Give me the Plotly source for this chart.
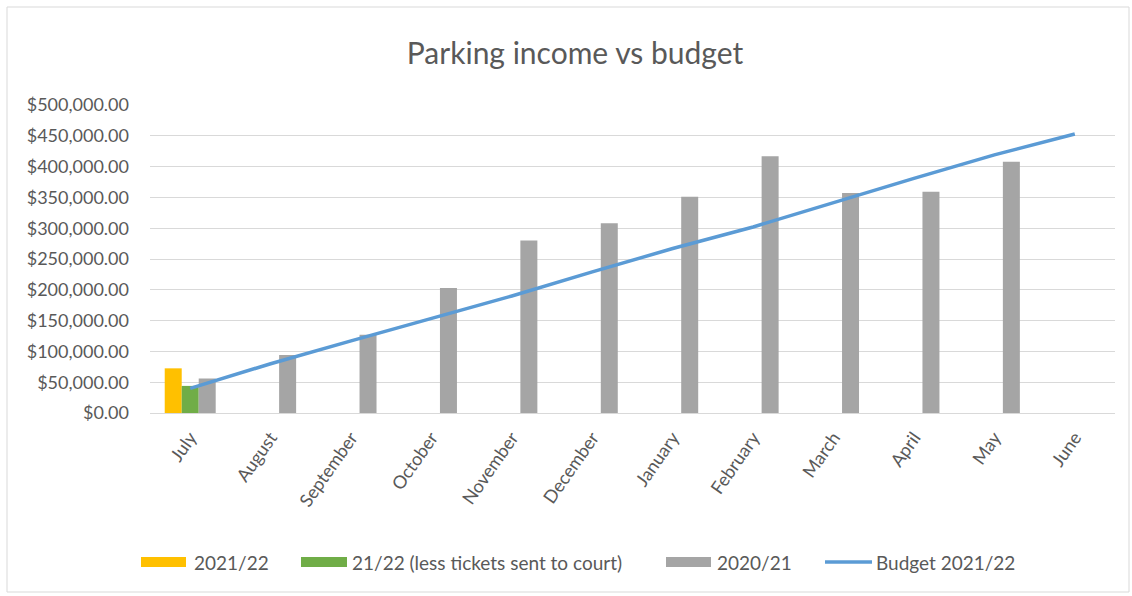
import plotly.graph_objects as go

# Monthly categories for the 2021/22 financial year
months = ["July", "August", "September", "October", "November", "December",
          "January", "February", "March", "April", "May", "June"]

# Parking income by series
income_2021_22 = [72500, None, None, None, None, None, None, None, None, None, None, None]
income_less_court = [44000, None, None, None, None, None, None, None, None, None, None, None]
income_2020_21 = [56000, 94000, 127000, 203000, 280000, 308000,
                  351000, 417000, 357000, 359000, 408000, None]

# Cumulative budget line
budget_2021_22 = [40000, 80000, 117000, 153000, 190000, 229000,
                  267000, 302000, 342000, 381000, 419000, 453000]

series_names = ["2021/22", "21/22 (less tickets sent to court)", "2020/21", "Budget 2021/22"]
series_colors = ["#FFC000", "#70AD47", "#A5A5A5", "#5B9BD5"]

W, H = 1132, 596
ML, MR, MT, MB = 150, 17, 105, 183
PW, PH = W - ML - MR, H - MT - MB
FONT = "Lato"
TXT = "#595959"


def px_x(px):
    return (px - ML) / PW


def px_y(py):
    return (H - MB - py) / PH


fig = go.Figure()
for vals, name, color in zip([income_2021_22, income_less_court, income_2020_21],
                             series_names[:3], series_colors[:3]):
    fig.add_trace(go.Bar(x=months, y=vals, name=name, marker_color=color,
                         marker_line_width=0))

fig.add_trace(go.Scatter(x=months, y=budget_2021_22, name=series_names[3],
                         mode="lines", line=dict(color=series_colors[3], width=3.5)))

# Outer chart border
shapes = [dict(type="rect", xref="paper", yref="paper",
               x0=px_x(7), x1=px_x(1129), y0=px_y(592), y1=px_y(7),
               line=dict(color="#d9d9d9", width=1), layer="below")]

# Legend row along the bottom
annotations = []
legend_items = [  # swatch start, swatch end, text start
    (141, 186, 192),
    (301, 347, 350),
    (666, 711, 715),
    (825, 872, 874),
]
ly = 562
for i, (s0, s1, t0) in enumerate(legend_items):
    if i < 3:
        shapes.append(dict(type="rect", xref="paper", yref="paper",
                           x0=px_x(s0), x1=px_x(s1), y0=px_y(ly + 5), y1=px_y(ly - 5),
                           fillcolor=series_colors[i], line_width=0))
    else:
        shapes.append(dict(type="line", xref="paper", yref="paper",
                           x0=px_x(s0), x1=px_x(s1), y0=px_y(ly), y1=px_y(ly),
                           line=dict(color=series_colors[i], width=3.5)))
    annotations.append(dict(text=series_names[i], xref="paper", yref="paper",
                            x=px_x(t0), y=px_y(ly), xanchor="left", yanchor="middle",
                            showarrow=False, font=dict(family=FONT, size=19, color=TXT)))

fig.update_layout(
    width=W, height=H,
    margin=dict(l=ML, r=MR, t=MT, b=MB),
    paper_bgcolor="white", plot_bgcolor="white",
    title=dict(text="Parking income vs budget", x=575 / W, y=1 - 53 / H,
               xref="container", yref="container", xanchor="center", yanchor="middle",
               font=dict(family=FONT, size=30, color=TXT)),
    barmode="group", bargap=0.366, bargroupgap=0,
    showlegend=False,
    shapes=shapes, annotations=annotations,
    xaxis=dict(type="category", showgrid=False, showline=True, linecolor="#d9d9d9",
               linewidth=1, ticks="", tickangle=-55, ticklabelstandoff=6,
               tickfont=dict(family=FONT, size=18, color=TXT)),
    yaxis=dict(range=[0, 500000], dtick=50000, tickformat="$,.2f",
               showgrid=True, gridcolor="#d9d9d9", gridwidth=1, zeroline=False,
               ticks="", ticklabelstandoff=20,
               tickfont=dict(family=FONT, size=18, color=TXT)),
)

fig.write_html("out.html")
